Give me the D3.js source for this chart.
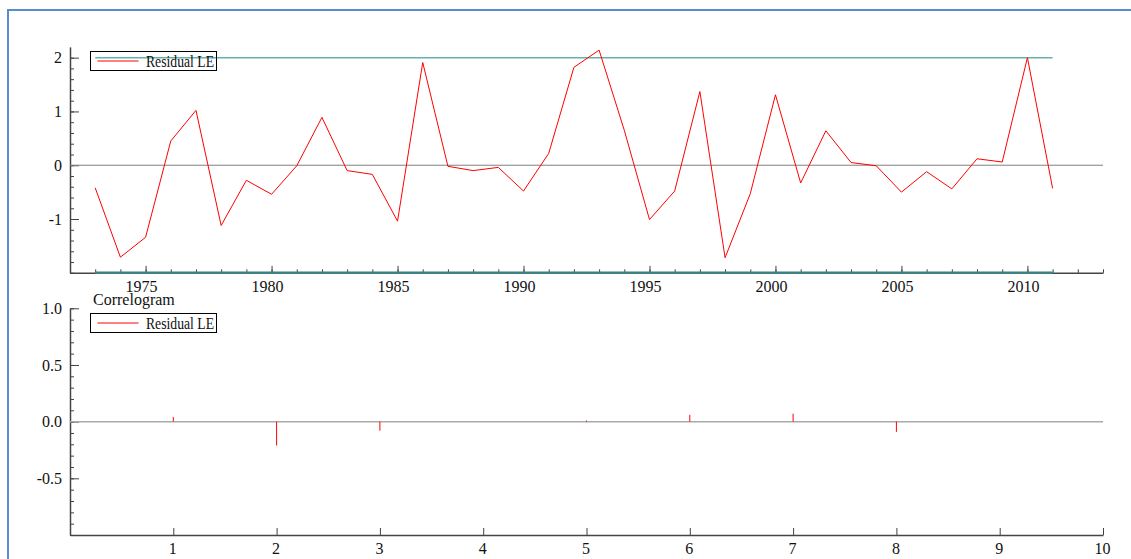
<!DOCTYPE html>
<html>
<head>
<meta charset="utf-8">
<script src="https://cdn.jsdelivr.net/npm/d3@7"></script>
<style>
  body { margin: 0; background: #fff; }
  svg { display: block; font-family: "Liberation Serif", "Times New Roman", serif; }
  .axis path, .axis line { stroke: #444; }
  .axis text { fill: #111; font-size: 16px; font-family: "Liberation Serif", serif; }
</style>
</head>
<body>
<div id="chart"></div>
<script>
// residual series (top panel)
const years = [1973, 1974, 1975, 1976, 1977, 1978, 1979, 1980, 1981, 1982,
  1983, 1984, 1985, 1986, 1987, 1988, 1989, 1990, 1991, 1992, 1993, 1994,
  1995, 1996, 1997, 1998, 1999, 2000, 2001, 2002, 2003, 2004, 2005, 2006,
  2007, 2008, 2009, 2010, 2011];
const residuals = [-0.42, -1.71, -1.34, 0.45, 1.02, -1.12, -0.28, -0.54, -0.01, 0.89,
  -0.10, -0.17, -1.04, 1.91, -0.02, -0.10, -0.04, -0.48, 0.22, 1.82, 2.14, 0.65,
  -1.01, -0.48, 1.37, -1.72, -0.53, 1.31, -0.33, 0.64, 0.05, -0.01, -0.50, -0.12,
  -0.44, 0.12, 0.06, 2.00, -0.43];
const bandValues = [2, -2];

// correlogram (bottom panel)
const lags = [1, 2, 3, 4, 5, 6, 7, 8, 9, 10];
const acf = [0.04, -0.21, -0.08, 0.0, 0.01, 0.06, 0.07, -0.09, 0.0, 0.0];

const yearTicks = [1975, 1980, 1985, 1990, 1995, 2000, 2005, 2010];
const resTicks = [-1, 0, 1, 2];
const lagTicks = [1, 2, 3, 4, 5, 6, 7, 8, 9, 10];
const acfTicks = [-0.5, 0, 0.5, 1.0];

const seriesName = "Residual LE";
const title2 = "Correlogram";

const width = 1131, height = 559;
const svg = d3.select("#chart").append("svg")
  .attr("width", width).attr("height", height);

// plain hyphen for negatives, like the original
const fmtInt = d => d3.format("d")(d).replace("\u2212", "-");
const fmtOne = d => d3.format(".1f")(d).replace("\u2212", "-");

// outer frame
svg.append("path")
  .attr("d", `M8,${height} L8,10 L${width},10`)
  .attr("fill", "none")
  .attr("stroke", "#5b8bd1")
  .attr("stroke-width", 2);

const left = 70, right = 1103;

// ---------- top panel ----------
const x1 = d3.scaleLinear().domain([1972, 2013]).range([left, right]);
const y1 = d3.scaleLinear().domain([-2, 2.2]).range([272.8, 46.9]);

// minor ticks
svg.append("g").attr("class", "axis")
  .attr("transform", `translate(${left},0)`)
  .call(d3.axisLeft(y1).tickValues(d3.range(-20, 22, 2).map(d => d / 10))
    .tickSize(-4).tickSizeOuter(0).tickFormat(""))
  .call(g => g.select(".domain").attr("stroke-width", 1.5));
svg.append("g").attr("class", "axis")
  .attr("transform", `translate(${left},0)`)
  .call(d3.axisLeft(y1).tickValues(resTicks).tickSize(-9).tickSizeOuter(0)
    .tickPadding(8).tickFormat(fmtInt))
  .call(g => g.select(".domain").remove());

svg.append("g").attr("class", "axis")
  .attr("transform", `translate(0,${y1(-2)})`)
  .call(d3.axisBottom(x1).tickValues(d3.range(1972, 2014))
    .tickSize(-3.5).tickSizeOuter(0).tickFormat(""))
  .call(g => g.select(".domain").attr("stroke", "#777").attr("stroke-width", 1.5));
svg.append("g").attr("class", "axis")
  .attr("transform", `translate(0,${y1(-2)})`)
  .call(d3.axisBottom(x1).tickValues(yearTicks).tickSize(-7).tickSizeOuter(0)
    .tickPadding(8).tickFormat(d3.format("d")))
  .call(g => g.select(".domain").remove())
  .call(g => g.selectAll("text").attr("dx", -4.5));

// zero line
svg.append("line")
  .attr("x1", left).attr("x2", right)
  .attr("y1", y1(0)).attr("y2", y1(0))
  .attr("stroke", "#808080").attr("stroke-width", 1);

// +-2 bands
svg.selectAll(".band")
  .data(bandValues)
  .join("line")
  .attr("class", "band")
  .attr("x1", x1(years[0])).attr("x2", x1(years[years.length - 1]))
  .attr("y1", d => y1(d)).attr("y2", d => y1(d))
  .attr("stroke", d => d > 0 ? "#62b3ae" : "#3f8080")
  .attr("stroke-width", d => d > 0 ? 1.5 : 2.5);

// residual line
svg.append("path")
  .datum(years.map((yr, i) => [yr, residuals[i]]))
  .attr("fill", "none")
  .attr("stroke", "#ff0000")
  .attr("stroke-width", 1)
  .attr("d", d3.line().x(d => x1(d[0])).y(d => y1(d[1])));

// legend
function legend(x, y) {
  const g = svg.append("g").attr("transform", `translate(${x},${y})`);
  g.append("rect")
    .attr("width", 126).attr("height", 19)
    .attr("fill", "none").attr("stroke", "#000").attr("stroke-width", 1);
  g.append("line")
    .attr("x1", 7).attr("x2", 48).attr("y1", 9.5).attr("y2", 9.5)
    .attr("stroke", "#ff0000").attr("stroke-width", 1);
  g.append("text")
    .attr("x", 55.5).attr("y", 15.5)
    .attr("font-size", 16)
    .attr("textLength", 68).attr("lengthAdjust", "spacingAndGlyphs")
    .attr("fill", "#111")
    .text(seriesName);
}
legend(90.5, 51.5);

// ---------- bottom panel ----------
const x2 = d3.scaleLinear().domain([0, 10]).range([left, right]);
const y2 = d3.scaleLinear().domain([-1, 1]).range([535, 308.3]);

svg.append("g").attr("class", "axis")
  .attr("transform", `translate(${left},0)`)
  .call(d3.axisLeft(y2).tickValues(d3.range(-10, 11).map(d => d / 10))
    .tickSize(-4).tickSizeOuter(0).tickFormat(""))
  .call(g => g.select(".domain").attr("stroke-width", 1.5));
svg.append("g").attr("class", "axis")
  .attr("transform", `translate(${left},0)`)
  .call(d3.axisLeft(y2).tickValues(acfTicks).tickSize(-9).tickSizeOuter(0)
    .tickPadding(8).tickFormat(fmtOne))
  .call(g => g.select(".domain").remove());

svg.append("g").attr("class", "axis")
  .attr("transform", `translate(0,${y2(-1)})`)
  .call(d3.axisBottom(x2).tickValues(lagTicks).tickSize(-7).tickSizeOuter(0)
    .tickPadding(7.5).tickFormat(d3.format("d")))
  .call(g => g.select(".domain").attr("stroke-width", 1.5))
  .call(g => g.selectAll("text").attr("dx", -1));

svg.append("line")
  .attr("x1", left).attr("x2", right)
  .attr("y1", y2(0)).attr("y2", y2(0))
  .attr("stroke", "#aaaaaa").attr("stroke-width", 1.5);

svg.selectAll(".acf")
  .data(lags.map((l, i) => [l, acf[i]]).filter(d => d[1] !== 0))
  .join("line")
  .attr("class", "acf")
  .attr("x1", d => x2(d[0])).attr("x2", d => x2(d[0]))
  .attr("y1", y2(0)).attr("y2", d => y2(d[1]))
  .attr("stroke", "#ff0000").attr("stroke-width", 1);

svg.append("text")
  .attr("x", 93).attr("y", 304.5)
  .attr("font-size", 16).attr("fill", "#111")
  .text(title2);

legend(90.5, 313.5);
</script>
</body>
</html>
